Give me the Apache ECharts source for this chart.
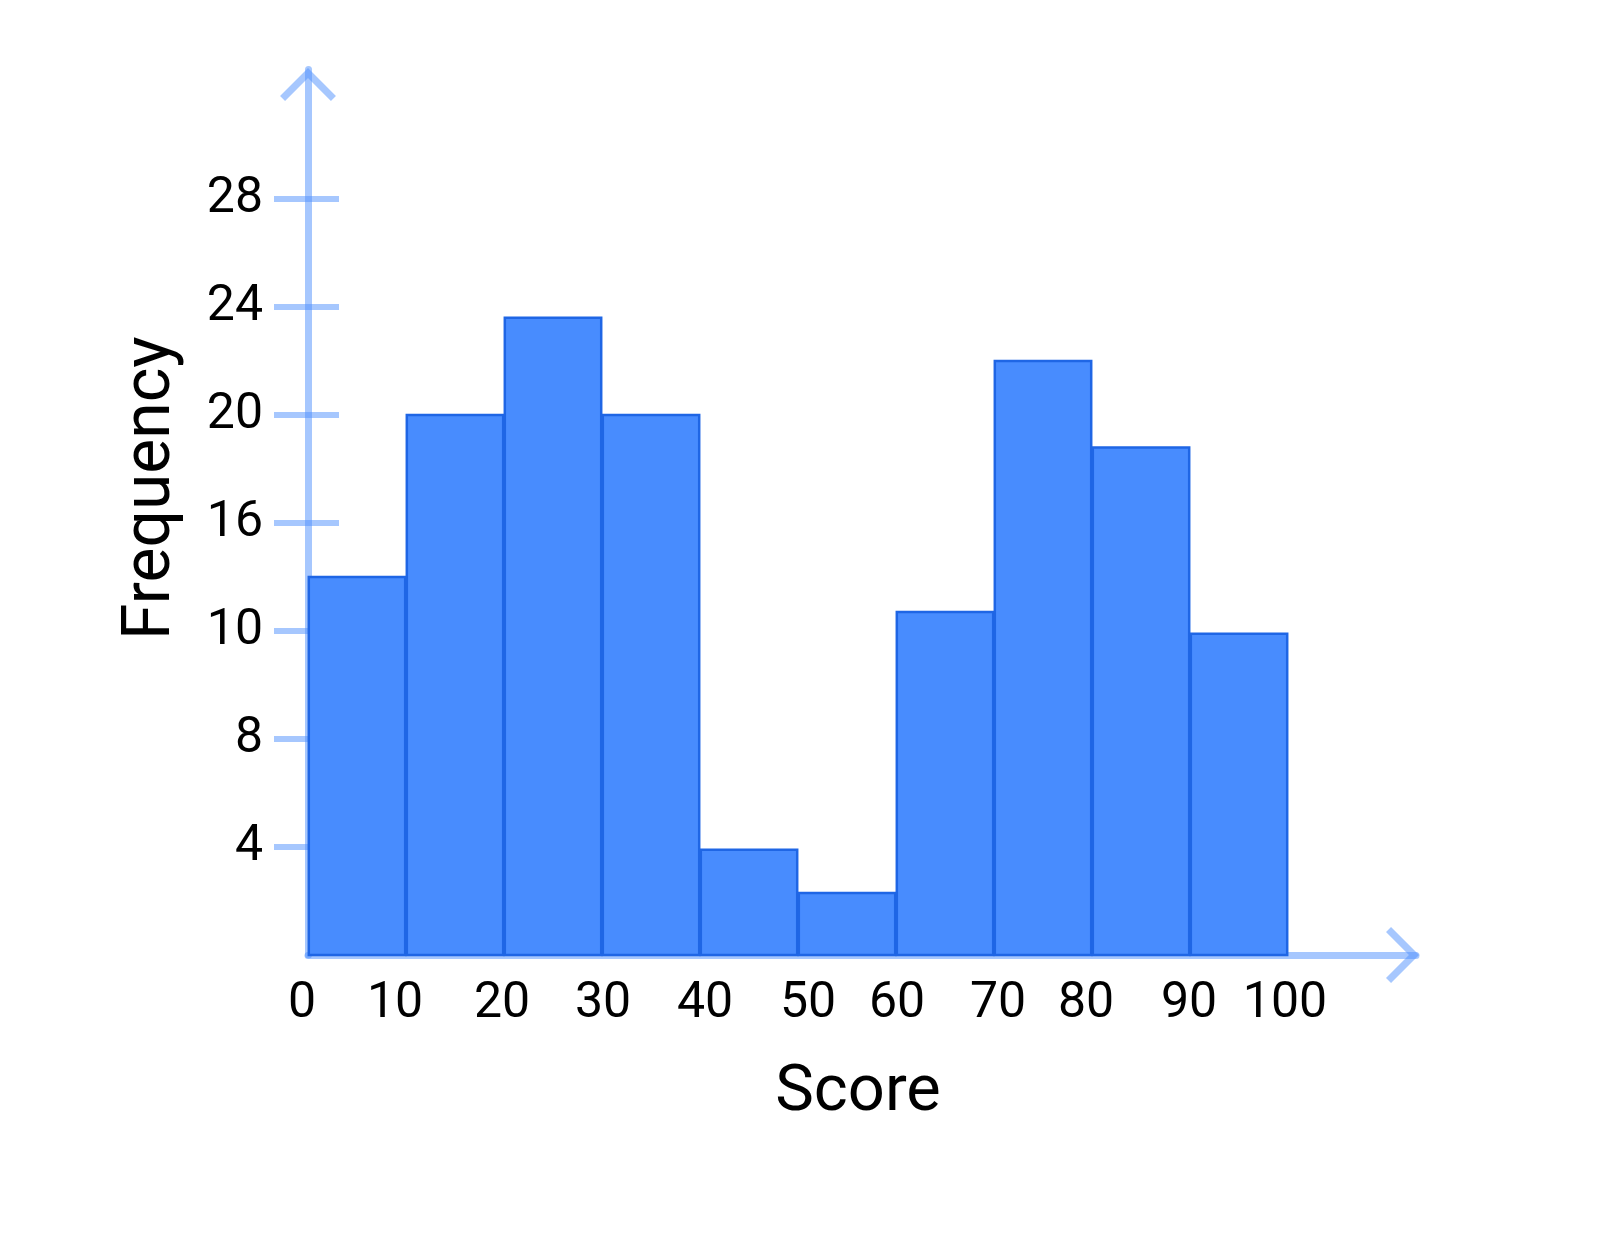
<!DOCTYPE html>
<html>
<head>
<meta charset="utf-8">
<script src="https://cdn.jsdelivr.net/npm/echarts@6/dist/echarts.min.js"></script>
<style>
  html, body { margin: 0; padding: 0; background: #ffffff; }
  #chart { width: 1616px; height: 1236px; }
</style>
</head>
<body>
<div id="chart"></div>
<script>
// ---- data ----
const binStarts = [0, 10, 20, 30, 40, 50, 60, 70, 80, 90];
const binEnds   = [10, 20, 30, 40, 50, 60, 70, 80, 90, 100];
const frequencies = [14, 20, 23.6, 20, 3.9, 2.3, 12.7, 22, 18.8, 11.9];
const xTickValues = [0, 10, 20, 30, 40, 50, 60, 70, 80, 90, 100];
const xTickLabels = ['0', '10', '20', '30', '40', '50', '60', '70', '80', '90', '100'];
const yTickValues = [4, 8, 12, 16, 20, 24, 28];
const yTickLabels = ['4', '8', '10', '16', '20', '24', '28'];
const xAxisTitle = 'Score';
const yAxisTitle = 'Frequency';

// ---- style ----
const FONT = 'Roboto';
const axisColor = 'rgba(77,143,253,0.5)';
const barFill = '#488cfe';
const barStroke = '#1f66e5';
const chevron = 'path://M50 0 L100 50 L91 59 L50 18 L9 59 L0 50 Z';
// small horizontal nudges of x tick labels (px), as drawn in the reference
const xLabelShift = [-6, -11, -2, 1, 5, 10, 1, 4, -6, -1, -3];

const rich = {};
xLabelShift.forEach(function (d, i) {
  rich['l' + i] = {
    fontSize: 50, fontFamily: FONT, color: '#000',
    padding: d >= 0 ? [0, 0, 0, 2 * d] : [0, -2 * d, 0, 0]
  };
});

const seriesData = binStarts.map(function (s, i) { return [s, binEnds[i], frequencies[i]]; });

const chart = echarts.init(document.getElementById('chart'), null, { renderer: 'canvas' });
chart.setOption({
  backgroundColor: '#ffffff',
  animation: false,
  grid: { left: 308, right: 200, top: 69.4, bottom: 281 },
  xAxis: {
    type: 'value', min: 0, max: 113.06, offset: 2,
    name: xAxisTitle, nameLocation: 'middle', nameGap: 104,
    nameTextStyle: { fontSize: 65, fontFamily: FONT, color: '#000', padding: [0, 8, 0, 0] },
    axisLine: {
      show: true,
      lineStyle: { color: axisColor, width: 7 },
      symbol: ['none', chevron], symbolSize: [56, 33], symbolOffset: [0, -13.5]
    },
    axisTick: { show: false },
    splitLine: { show: false },
    axisLabel: {
      customValues: xTickValues, margin: 22,
      formatter: function (v) {
        const i = xTickValues.indexOf(v);
        return '{l' + i + '|' + xTickLabels[i] + '}';
      },
      rich: rich
    }
  },
  yAxis: [{
    type: 'value', min: 0, max: 32.8, position: 'left',
    name: yAxisTitle, nameLocation: 'middle', nameRotate: 90, nameGap: 123,
    nameTextStyle: { fontSize: 66, fontFamily: FONT, color: '#000', padding: [0, 0, 0, 48] },
    axisLine: {
      show: true,
      lineStyle: { color: axisColor, width: 7 },
      symbol: ['none', chevron], symbolSize: [56, 33], symbolOffset: [0, -15.1]
    },
    axisTick: { show: true, customValues: yTickValues, length: 34, lineStyle: { color: axisColor, width: 6 } },
    splitLine: { show: false },
    axisLabel: {
      customValues: yTickValues, margin: 45,
      fontSize: 50, fontFamily: FONT, color: '#000',
      formatter: function (v) { return yTickLabels[yTickValues.indexOf(v)]; }
    }
  }, {
    type: 'value', min: 0, max: 32.8, position: 'left', offset: 0,
    axisLine: { show: false },
    axisLabel: { show: false },
    splitLine: { show: false },
    axisTick: { show: true, inside: true, customValues: yTickValues, length: 31, lineStyle: { color: axisColor, width: 6 } }
  }],
  series: [{
    type: 'custom',
    yAxisIndex: 0,
    data: seriesData,
    encode: { x: [0, 1], y: 2 },
    renderItem: function (params, api) {
      const p0 = api.coord([api.value(0), api.value(2)]);
      const p1 = api.coord([api.value(1), 0]);
      return {
        type: 'rect',
        shape: { x: p0[0] + 0.8, y: p0[1], width: p1[0] - p0[0] - 1.6, height: p1[1] - p0[1] },
        style: { fill: barFill, stroke: barStroke, lineWidth: 2.5 }
      };
    }
  }]
});
</script>
</body>
</html>
